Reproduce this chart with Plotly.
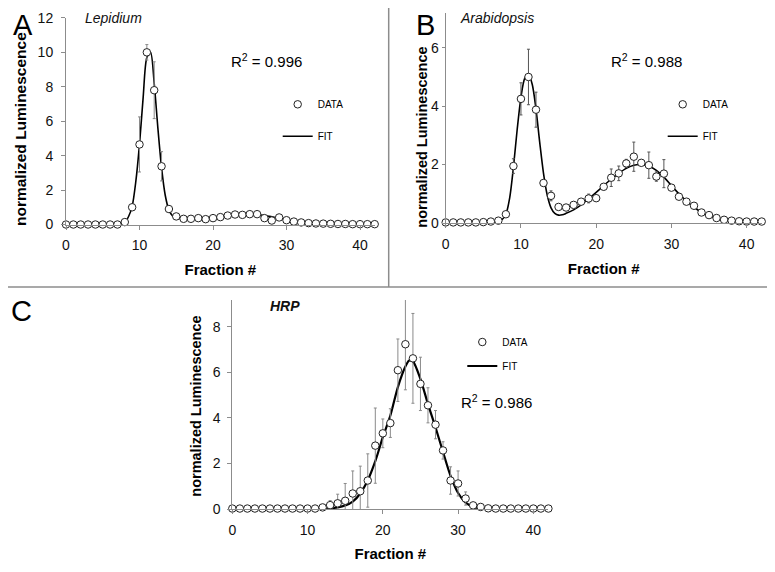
import plotly.graph_objects as go

# ---------------- data ----------------
fractions = list(range(0, 43))

# Panel A: Lepidium
lep_y = [0, 0, 0, 0, 0, 0, 0, 0, 0.14, 1.0, 4.65, 10.0, 7.8, 3.38, 0.9, 0.47, 0.33, 0.33, 0.37, 0.31,
         0.37, 0.43, 0.52, 0.58, 0.56, 0.6, 0.6, 0.37, 0.23, 0.41, 0.25, 0.17, 0.12, 0.08, 0.06, 0.05,
         0.04, 0.03, 0.03, 0.02, 0.02, 0.02, 0.02]
lep_err = [0, 0, 0, 0, 0, 0, 0, 0, 0.05, 0.1, 1.6, 0.45, 1.65, 0.85, 0.1, 0.05, 0.05, 0.05, 0.05, 0.05,
           0.15, 0.05, 0.05, 0.05, 0.05, 0.05, 0.05, 0.05, 0.05, 0.1, 0.05, 0.03, 0.03, 0, 0, 0,
           0, 0, 0, 0, 0, 0, 0]
lep_fit_x = [0, 2, 4, 6, 7, 7.5, 8, 8.5, 9, 9.5, 10, 10.5, 11, 11.5, 12, 12.5, 13, 13.5, 14, 14.5, 15,
             16, 17, 18, 19, 20, 21, 22, 23, 24, 25, 26, 27, 28, 29, 30, 31, 32, 33, 34, 35, 36, 37,
             38, 40, 42]
lep_fit_y = [0, 0, 0, 0, 0.01, 0.04, 0.12, 0.45, 1.05, 2.5, 4.65, 7.4, 9.7, 10.0, 8.2, 5.6, 3.3, 1.7,
             0.85, 0.5, 0.38, 0.34, 0.35, 0.37, 0.4, 0.43, 0.47, 0.51, 0.54, 0.56, 0.57, 0.56, 0.52,
             0.45, 0.37, 0.28, 0.2, 0.13, 0.08, 0.05, 0.03, 0.02, 0.01, 0.01, 0, 0]

# Panel B: Arabidopsis
ara_y = [0.02, 0.02, 0.02, 0.02, 0.02, 0.03, 0.05, 0.08, 0.3, 1.95, 4.25, 5.0, 3.88, 1.37, 0.93, 0.55,
         0.53, 0.62, 0.73, 0.84, 0.85, 1.24, 1.55, 1.7, 2.04, 2.27, 2.06, 1.98, 1.59, 1.69, 1.21, 0.9,
         0.73, 0.59, 0.36, 0.27, 0.17, 0.11, 0.08, 0.06, 0.05, 0.05, 0.05]
ara_err = [0, 0, 0, 0, 0, 0, 0, 0.03, 0.05, 0.25, 0.55, 0.95, 0.6, 0.1, 0.17, 0.05, 0.05, 0.05, 0.05,
           0.15, 0.08, 0.1, 0.3, 0.25, 0.14, 0.5, 0.05, 0.45, 0.16, 0.48, 0.07, 0.05, 0.03, 0.03, 0.02,
           0.02, 0, 0, 0, 0, 0, 0, 0]
ara_fit_x = [0, 2, 4, 6, 7, 7.5, 8, 8.5, 9, 9.5, 10, 10.5, 11, 11.5, 12, 12.5, 13, 13.5, 14, 14.5, 15,
             15.5, 16, 17, 18, 19, 20, 21, 22, 23, 24, 25, 26, 27, 28, 29, 30, 31, 32, 33, 34, 35, 36,
             37, 38, 39, 40, 41, 42]
ara_fit_y = [0.01, 0.01, 0.01, 0.02, 0.06, 0.12, 0.3, 0.85, 1.9, 3.2, 4.3, 4.95, 5.1, 4.75, 3.9, 2.75,
             1.7, 0.95, 0.52, 0.33, 0.27, 0.28, 0.33, 0.45, 0.62, 0.83, 1.05, 1.28, 1.5, 1.7, 1.87,
             1.98, 2.0, 1.95, 1.8, 1.57, 1.28, 1.0, 0.75, 0.54, 0.37, 0.25, 0.16, 0.1, 0.07, 0.05, 0.04,
             0.03, 0.03]

# Panel C: HRP
hrp_y = [0.02] * 12 + [0.07, 0.17, 0.25, 0.36, 0.68, 0.78, 1.25, 2.78, 3.32, 3.77, 6.09, 7.23, 6.61,
                       5.49, 4.55, 3.7, 2.57, 1.25, 1.12, 0.46, 0.16, 0.09, 0.03, 0.02, 0.02, 0.02,
                       0.02, 0.02, 0.02, 0.02, 0.02]
hrp_err = [0] * 12 + [0.05, 0.2, 0.4, 0.76, 0.99, 1.1, 1.17, 1.65, 0.63, 0.63, 1.37, 2.0, 1.97, 1.17,
                      0.77, 0.62, 0.38, 0.6, 0.55, 0.29, 0.05, 0, 0, 0, 0, 0, 0, 0, 0, 0, 0]
hrp_fit_x = [0, 4, 8, 10, 12, 13, 14, 15, 16, 17, 18, 19, 20, 21, 22, 23, 23.5, 24, 25, 26, 27, 28, 29,
             30, 31, 32, 33, 34, 36, 38, 40, 42]
hrp_fit_y = [0, 0, 0, 0, 0.01, 0.03, 0.07, 0.15, 0.32, 0.68, 1.26, 2.1, 3.15, 4.1, 5.35, 6.25, 6.52,
             6.48, 5.7, 4.6, 3.58, 2.5, 1.45, 0.7, 0.28, 0.1, 0.03, 0.01, 0, 0, 0, 0]

x_ticks = [0, 10, 20, 30, 40]
r2_labels = ["0.996", "0.988", "0.986"]
panel_titles = ["Lepidium", "Arabidopsis", "HRP"]
panel_letters = ["A", "B", "C"]

# ---------------- figure ----------------
# The page body has an 8px default margin, so the figure is made 8px smaller
# and all window-pixel positions are shifted by that offset.
OFF = 8
W, H = 775 - OFF, 572 - OFF
FONT = "Arial, 'Liberation Sans', sans-serif"


def px(x):
    return (x - OFF) / W


def py(y):
    return 1 - (y - OFF) / H


fig = go.Figure()

panels = [
    dict(x=fractions, y=lep_y, err=lep_err, fx=lep_fit_x, fy=lep_fit_y, ax="x", ay="y",
         leg="legend", errc="#8a8a8a", lw=1.6),
    dict(x=fractions, y=ara_y, err=ara_err, fx=ara_fit_x, fy=ara_fit_y, ax="x2", ay="y2",
         leg="legend2", errc="#555555", lw=1.6),
    dict(x=fractions, y=hrp_y, err=hrp_err, fx=hrp_fit_x, fy=hrp_fit_y, ax="x3", ay="y3",
         leg="legend3", errc="#8a8a8a", lw=2.2),
]

for i, p in enumerate(panels):
    fig.add_trace(go.Scatter(
        x=p["fx"], y=p["fy"], mode="lines", name="FIT",
        line=dict(color="black", width=p["lw"], shape="spline", smoothing=0.8),
        xaxis=p["ax"], yaxis=p["ay"], legend=p["leg"], legendgroup=f"fit{i}", legendrank=2,
        cliponaxis=False, hoverinfo="skip",
    ))
    fig.add_trace(go.Scatter(
        x=p["x"], y=p["y"], mode="markers", name="DATA",
        marker=dict(symbol="circle", size=7.5, color="white", line=dict(color="#222222", width=1)),
        error_y=dict(type="data", array=p["err"], visible=True, color=p["errc"], thickness=1, width=1.5),
        xaxis=p["ax"], yaxis=p["ay"], legend=p["leg"], legendgroup=f"data{i}", legendrank=1,
        cliponaxis=False,
    ))

axis_common = dict(
    showline=True, linecolor="#8c8c8c", linewidth=1, showgrid=False, zeroline=False,
    ticks="outside", tickcolor="#8c8c8c", tickwidth=1, automargin=False,
    tickfont=dict(family=FONT, size=14, color="#111111"),
)

xdomains = [[px(66), px(374.7)], [px(445.7), px(761.7)], [px(232.3), px(548.4)]]
ydomains = [[py(224.5), py(17.9)], [py(223), py(13.3)], [py(509), py(300)]]
yranges = [[0, 12], [0, 7.18], [0, 9.17]]
ydticks = [2, 2, 2]
y_ticklen = [4, 3, 4]
y_standoff = [5, 0, 4]
x_title_standoff = [12, 12, 11]

layout = dict(
    width=W, height=H, margin=dict(l=0, r=0, t=0, b=0, pad=0, autoexpand=False),
    paper_bgcolor="white", plot_bgcolor="white", showlegend=True,
    font=dict(family=FONT, color="black"),
)
for i in range(3):
    sfx = "" if i == 0 else str(i + 1)
    layout["xaxis" + sfx] = dict(
        axis_common, domain=xdomains[i], range=[0, 42], tickvals=x_ticks, ticklen=4,
        anchor="y" + sfx, ticklabelstandoff=4,
        title=dict(text="<b>Fraction #</b>", font=dict(family=FONT, size=15),
                   standoff=x_title_standoff[i]),
    )
    layout["yaxis" + sfx] = dict(
        axis_common, domain=ydomains[i], range=yranges[i], dtick=ydticks[i], tick0=0,
        anchor="x" + sfx, ticklen=y_ticklen[i], ticklabelstandoff=y_standoff[i],
    )

legend_common = dict(
    xanchor="left", yanchor="top", bgcolor="rgba(0,0,0,0)", borderwidth=0,
    font=dict(family=FONT, size=10, color="black"), itemwidth=30, traceorder="grouped",
)
layout["legend"] = dict(legend_common, x=px(277.7), y=py(89.8), tracegroupgap=13)
layout["legend2"] = dict(legend_common, x=px(662.7), y=py(89.8), tracegroupgap=13)
layout["legend3"] = dict(legend_common, x=px(462.3), y=py(327.5), tracegroupgap=5)

fig.update_layout(**layout)

annotations = []
# panel letters
for letter, (lx, ly) in zip(panel_letters, [(23, 25), (425, 25), (22, 311)]):
    annotations.append(dict(text=letter, x=px(lx), y=py(ly), xref="paper", yref="paper",
                            showarrow=False, xanchor="center", yanchor="middle",
                            font=dict(family=FONT, size=29, color="black")))
# panel titles
for t, (tx, ty), style in zip(panel_titles, [(113.3, 18.5), (496.7, 18.5), (284.7, 305.5)],
                              ["<i>{}</i>", "<i>{}</i>", "<b><i>{}</i></b>"]):
    annotations.append(dict(text=style.format(t), x=px(tx), y=py(ty), xref="paper", yref="paper",
                            showarrow=False, xanchor="center", yanchor="middle",
                            font=dict(family=FONT, size=14, color="#111111")))
# R^2 labels
for r2, (rx, ry) in zip(r2_labels, [(266.7, 60), (646.7, 60), (496, 401.5)]):
    annotations.append(dict(text=f"R<sup>2</sup> = {r2}", x=px(rx), y=py(ry), xref="paper",
                            yref="paper", showarrow=False, xanchor="center", yanchor="middle",
                            font=dict(family=FONT, size=15, color="black")))
# y axis titles
for (tx, ty, fs) in [(20.5, 129.5, 15.5), (422, 136.7, 14.5), (196, 406.7, 14.5)]:
    annotations.append(dict(text="<b>normalized Luminescence</b>", x=px(tx), y=py(ty), xref="paper",
                            yref="paper", showarrow=False, xanchor="center", yanchor="middle",
                            textangle=-90, font=dict(family=FONT, size=fs, color="black")))
fig.update_layout(annotations=annotations)

# panel separators
sep = dict(color="#8c8c8c", width=1.5)
fig.add_shape(type="line", xref="paper", yref="paper", x0=px(388.7), x1=px(388.7), y0=1, y1=py(287),
              line=sep)
fig.add_shape(type="line", xref="paper", yref="paper", x0=0, x1=1, y0=py(287), y1=py(287), line=sep)

fig.write_html("out.html")
